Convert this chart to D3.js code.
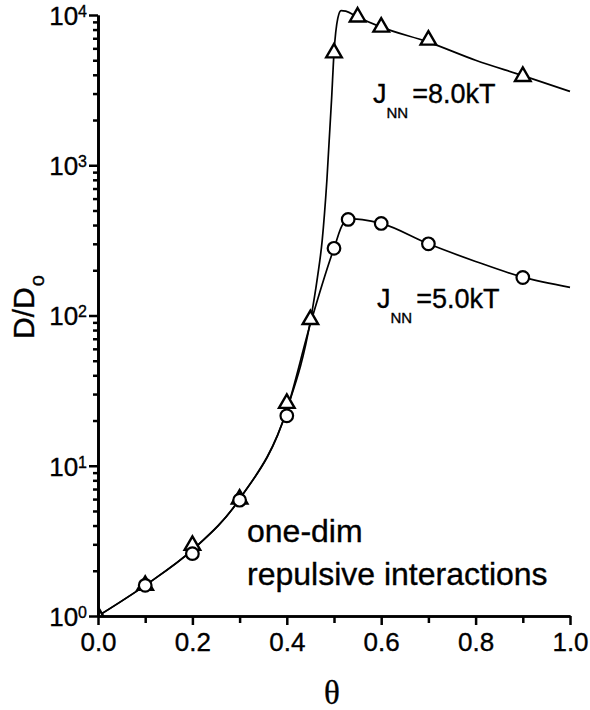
<!DOCTYPE html>
<html lang="en">
<head>
<meta charset="UTF-8">
<title>D/Do vs theta</title>
<style>
  body { margin: 0; background: #fff; }
  svg { font-family: "Liberation Sans", Arial, Helvetica, sans-serif; }
  .lbl { stroke: #000; stroke-width: 0.35; }
</style>
</head>
<body>
<svg id="chart" width="590" height="710"></svg>
<script src="https://cdn.jsdelivr.net/npm/d3@7/dist/d3.min.js"></script>
<script>
// markers
var triTheta = [0, 0.1, 0.2, 0.3, 0.4, 0.45, 0.5, 0.55, 0.6, 0.7, 0.9]
var triVal   = [1.0, 1.6, 2.95, 6.0, 26, 94, 5600, 9700, 8300, 6800, 3900]
var cirTheta = [0.1, 0.2, 0.3, 0.4, 0.5, 0.53, 0.6, 0.7, 0.9]
var cirVal   = [1.6, 2.6, 5.9, 21.5, 280, 436, 410, 300, 179]

// the drawn curves (J_NN = 8.0kT and 5.0kT)
var fit8Theta = [0, 0.1, 0.2, 0.3, 0.4, 0.45, 0.465, 0.475, 0.485, 0.495, 0.5, 0.508, 0.515, 0.525, 0.55, 0.6, 0.7, 0.8, 0.9, 1.0]
var fit8Val   = [1, 1.6, 2.75, 6.0, 23.5, 92, 180, 316, 800, 2800, 5600, 9500, 10700, 10600, 9700, 8300, 6600, 5000, 3950, 3100]
var fit5Theta = [0, 0.1, 0.2, 0.3, 0.4, 0.45, 0.5, 0.52, 0.54, 0.56, 0.6, 0.7, 0.8, 0.9, 1.0]
var fit5Val   = [1, 1.6, 2.75, 6.0, 23.5, 88, 280, 410, 440, 435, 410, 300, 229, 180, 154]

var xTicks = [0, 0.2, 0.4, 0.6, 0.8, 1.0]
var xMinor = [0.1, 0.3, 0.5, 0.7, 0.9]
var yDecades = [1, 10, 100, 1000, 10000]

var svg = d3.select('#chart')
var x = d3.scaleLinear().domain([0, 1]).range([98, 570])
var y = d3.scaleLog().domain([1, 1e4]).range([616, 15])

svg.append('clipPath').attr('id', 'plot')
  .append('rect')
  .attr('x', x(0)).attr('y', 0)
  .attr('width', 590 - x(0)).attr('height', y(1))

var line = d3.line()
  .x(function (d) { return x(d[0]) })
  .y(function (d) { return y(d[1]) })
  .curve(d3.curveMonotoneX)

var g = svg.append('g').attr('clip-path', 'url(#plot)')

g.append('path')
  .datum(d3.zip(fit8Theta, fit8Val))
  .attr('d', line)
  .attr('fill', 'none').attr('stroke', '#000').attr('stroke-width', 1.7)
g.append('path')
  .datum(d3.zip(fit5Theta, fit5Val))
  .attr('d', line)
  .attr('fill', 'none').attr('stroke', '#000').attr('stroke-width', 1.7)

var tri = d3.symbol().type(d3.symbolTriangle).size(105)
g.selectAll('path.tri')
  .data(d3.zip(triTheta, triVal))
  .enter().append('path')
  .attr('class', 'tri')
  .attr('transform', function (d) { return 'translate(' + x(d[0]) + ',' + y(d[1]) + ')' })
  .attr('d', tri)
  .attr('fill', '#fff').attr('stroke', '#000').attr('stroke-width', 2.4)

g.selectAll('circle.cir')
  .data(d3.zip(cirTheta, cirVal))
  .enter().append('circle')
  .attr('class', 'cir')
  .attr('cx', function (d) { return x(d[0]) })
  .attr('cy', function (d) { return y(d[1]) })
  .attr('r', 6.3)
  .attr('fill', '#fff').attr('stroke', '#000').attr('stroke-width', 2.2)

// axes
var minorY = []
yDecades.slice(0, -1).forEach(function (d) {
  for (var k = 2; k <= 9; k++) minorY.push(d * k)
})

function styleAxis (sel) {
  sel.select('.domain').attr('stroke-width', 2.7)
  sel.selectAll('.tick line').attr('stroke-width', 2.5)
  sel.selectAll('.tick text').attr('fill', '#000').attr('class', 'lbl')
}

svg.append('g')
  .attr('transform', 'translate(' + x(0) + ',0)')
  .call(d3.axisLeft(y).tickValues(minorY).tickSize(5).tickSizeOuter(0).tickFormat(''))
  .call(styleAxis)

var yAx = svg.append('g')
  .attr('transform', 'translate(' + x(0) + ',0)')
  .call(d3.axisLeft(y).tickValues(yDecades).tickSize(9).tickSizeOuter(0).tickFormat(''))
  .call(styleAxis)
yAx.selectAll('.tick text')
  .attr('x', -11).attr('dy', '0.36em')
  .style('font-size', '26px')
  .each(function (d) {
    var t = d3.select(this)
    t.append('tspan').text('10')
    t.append('tspan').attr('dy', -8).style('font-size', '16px').text(Math.round(Math.log10(d)))
  })

svg.append('g')
  .attr('transform', 'translate(0,' + y(1) + ')')
  .call(d3.axisBottom(x).tickValues(xMinor).tickSize(7).tickSizeOuter(0).tickFormat(''))
  .call(styleAxis)

var xAx = svg.append('g')
  .attr('transform', 'translate(0,' + y(1) + ')')
  .call(d3.axisBottom(x).tickValues(xTicks).tickSize(9).tickSizeOuter(0).tickFormat(d3.format('.1f')))
  .call(styleAxis)
xAx.selectAll('.tick text')
  .attr('y', 35).attr('dy', 0)
  .style('font-size', '26px')

// axis titles
svg.append('text')
  .attr('class', 'lbl')
  .attr('x', x(0.5) - 2).attr('y', 704)
  .attr('text-anchor', 'middle')
  .style('font-family', '"Liberation Serif", "Times New Roman", serif')
  .style('font-size', '33px')
  .text('θ')

var yl = svg.append('text')
  .attr('class', 'lbl')
  .attr('transform', 'translate(34,307) rotate(-90)')
  .attr('text-anchor', 'middle')
  .style('font-size', '30px')
yl.append('tspan').text('D/D')
yl.append('tspan').attr('dy', 10).attr('dx', 1).style('font-size', '20px').text('o')

// labels
function jLabel (px, py, rest) {
  var t = svg.append('text').attr('class', 'lbl')
    .attr('x', px).attr('y', py).style('font-size', '27px')
  t.append('tspan').text('J')
  t.append('tspan').attr('dy', 15).style('font-size', '15px').text('NN')
  t.append('tspan').attr('dy', -15).attr('dx', 4).text(rest)
}
jLabel(373, 103, '=8.0kT')
jLabel(377, 308, '=5.0kT')

svg.append('text').attr('class', 'lbl').attr('x', 247).attr('y', 542).style('font-size', '32px').text('one-dim')
svg.append('text').attr('class', 'lbl').attr('x', 247).attr('y', 585).style('font-size', '32px').text('repulsive interactions')
</script>
</body>
</html>
